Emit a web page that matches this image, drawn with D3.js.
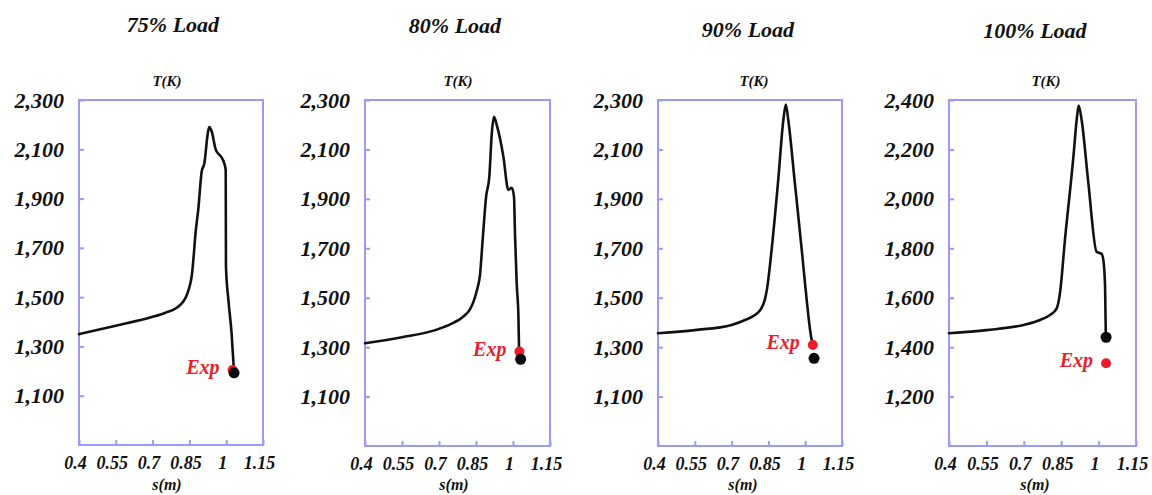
<!DOCTYPE html>
<html>
<head>
<meta charset="utf-8">
<script src="https://cdn.jsdelivr.net/npm/d3@7"></script>
<style>
  html, body { margin: 0; padding: 0; background: #fff; }
  svg { display: block; }
  text { font-family: "Liberation Serif", "Times New Roman", serif; font-style: italic; font-weight: bold; }
</style>
</head>
<body>
<svg id="chart" width="1152" height="495"></svg>
<script>
// ---------------- DATA ----------------
const panelTitles = ["75% Load", "80% Load", "90% Load", "100% Load"];
const xTicks = [0.4, 0.55, 0.7, 0.85, 1, 1.15];
const yTicksLow = [1100, 1300, 1500, 1700, 1900, 2100, 2300];
const yTicksHigh = [1200, 1400, 1600, 1800, 2000, 2200, 2400];
const yDomainLow = [900, 2300];
const yDomainHigh = [1000, 2400];

const s75 = [0.40, 0.55, 0.70, 0.75, 0.80, 0.825, 0.84, 0.852, 0.86, 0.866, 0.875, 0.886, 0.90, 0.911, 0.925, 0.931, 0.941, 0.958, 0.979, 0.992, 0.998, 0.999, 1.009, 1.022, 1.032];
const t75 = [1350, 1384, 1420, 1436, 1458, 1482, 1510, 1548, 1590, 1650, 1760, 1854, 2009, 2043, 2165, 2190, 2172, 2097, 2070, 2043, 2016, 1624, 1488, 1353, 1195];

const s80 = [0.40, 0.55, 0.70, 0.745, 0.80, 0.825, 0.84, 0.855, 0.866, 0.877, 0.891, 0.904, 0.914, 0.923, 0.934, 0.961, 0.981, 0.995, 1.004, 1.008, 1.015, 1.022, 1.025];
const t80 = [1316, 1340, 1374, 1392, 1425, 1452, 1484, 1535, 1590, 1734, 1909, 1990, 2165, 2232, 2199, 2071, 1936, 1945, 1909, 1761, 1558, 1423, 1265];

const s90 = [0.40, 0.55, 0.70, 0.755, 0.795, 0.82, 0.835, 0.845, 0.863, 0.890, 0.911, 0.921, 0.931, 0.958, 0.986, 1.006, 1.024, 1.031];
const t90 = [1356, 1369, 1390, 1410, 1430, 1455, 1490, 1540, 1693, 1976, 2219, 2282, 2219, 1963, 1693, 1491, 1342, 1309];

const s100 = [0.40, 0.55, 0.70, 0.765, 0.805, 0.832, 0.845, 0.865, 0.899, 0.912, 0.920, 0.932, 0.959, 0.992, 1.012, 1.019, 1.026, 1.029];
const t100 = [1456, 1469, 1490, 1510, 1530, 1557, 1618, 1834, 2171, 2319, 2378, 2319, 2063, 1786, 1777, 1753, 1645, 1440];

// simulated end point (black) and experimental point (red): [s, T]
const simEnd = [[1.032, 1193], [1.031, 1251], [1.036, 1255], [1.030, 1440]];
const expPoint = [[1.026, 1204], [1.026, 1282], [1.031, 1309], [1.030, 1335]];
const expLabel = "Exp";
const yLabel = "T(K)";
const xLabel = "s(m)";

// ---------------- LAYOUT ----------------
const layout = [
  { left: 79,  right: 263,  top: 100, bottom: 445, titleX: 173,  titleY: 32, tkX: 167,  smX: 167,  s: s75,  t: t75,  yDom: yDomainLow,  yTicks: yTicksLow },
  { left: 365, right: 550,  top: 100, bottom: 446, titleX: 455,  titleY: 33, tkX: 458,  smX: 454,  s: s80,  t: t80,  yDom: yDomainLow,  yTicks: yTicksLow },
  { left: 658, right: 842,  top: 100, bottom: 446, titleX: 748,  titleY: 37, tkX: 754,  smX: 743,  s: s90,  t: t90,  yDom: yDomainLow,  yTicks: yTicksLow },
  { left: 949, right: 1136, top: 100, bottom: 446, titleX: 1035, titleY: 38, tkX: 1046, smX: 1035, s: s100, t: t100, yDom: yDomainHigh, yTicks: yTicksHigh }
];

const boxColor = "#9a9af8";
const serif = '"Liberation Serif", "Times New Roman", serif';
const svg = d3.select("#chart");
const fmt = d3.format(",");

layout.forEach((L, i) => {
  const x = d3.scaleLinear().domain([0.4, 1.15]).range([L.left, L.right]);
  const y = d3.scaleLinear().domain(L.yDom).range([L.bottom, L.top]);
  const g = svg.append("g");

  g.append("text").attr("x", L.titleX).attr("y", L.titleY)
    .attr("text-anchor", "middle").attr("font-size", 22).attr("fill", "#111")
    .text(panelTitles[i]);
  g.append("text").attr("x", L.tkX).attr("y", 86)
    .attr("text-anchor", "middle").attr("font-size", 15).attr("fill", "#111")
    .text(yLabel);
  g.append("text").attr("x", L.smX).attr("y", 490)
    .attr("text-anchor", "middle").attr("font-size", 16).attr("fill", "#111")
    .text(xLabel);

  const xa = g.append("g").attr("transform", `translate(0,${L.bottom})`)
    .call(d3.axisBottom(x).tickValues(xTicks).tickSize(-5).tickPadding(11).tickFormat(d => String(d)));
  xa.select(".domain").remove();
  xa.selectAll("line").attr("stroke", boxColor).attr("stroke-width", 2);
  xa.selectAll("text").attr("font-size", 18).attr("fill", "#111").attr("dx", -4)
    .style("font-family", serif);

  const ya = g.append("g").attr("transform", `translate(${L.left},0)`)
    .call(d3.axisLeft(y).tickValues(L.yTicks).tickSize(-5).tickPadding(15).tickFormat(fmt));
  ya.select(".domain").remove();
  ya.selectAll("line").attr("stroke", boxColor).attr("stroke-width", 2);
  ya.selectAll("text").attr("font-size", 22).attr("fill", "#111")
    .style("font-family", serif);

  g.append("rect").attr("x", L.left).attr("y", L.top)
    .attr("width", L.right - L.left).attr("height", L.bottom - L.top)
    .attr("fill", "none").attr("stroke", boxColor).attr("stroke-width", 2);

  const pts = L.s.map((v, k) => [v, L.t[k]]);
  g.append("path").datum(pts)
    .attr("d", d3.line().x(d => x(d[0])).y(d => y(d[1])).curve(d3.curveMonotoneX))
    .attr("fill", "none").attr("stroke", "#111").attr("stroke-width", 2.6)
    .attr("stroke-linejoin", "round").attr("stroke-linecap", "round");

  const ex = expPoint[i];
  g.append("circle").attr("cx", x(ex[0])).attr("cy", y(ex[1])).attr("r", 5).attr("fill", "#ee1c2a");
  const se = simEnd[i];
  g.append("circle").attr("cx", x(se[0])).attr("cy", y(se[1])).attr("r", 5.5).attr("fill", "#0a0a0a");
  g.append("text").attr("x", x(ex[0]) - 13).attr("y", y(ex[1]) - 3).attr("dy", "0.35em")
    .attr("text-anchor", "end").attr("font-size", 20).attr("fill", "#ee1c2a")
    .text(expLabel);
});
</script>
</body>
</html>
